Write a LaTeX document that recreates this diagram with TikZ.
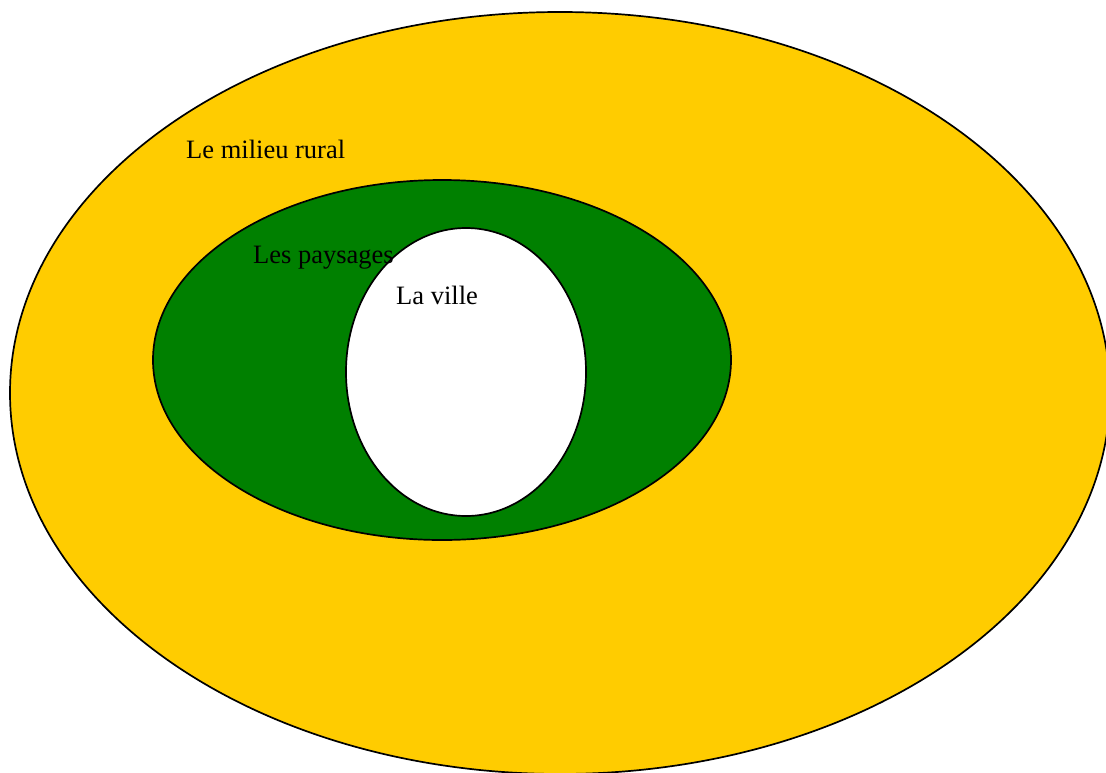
\documentclass[tikz,border=0pt]{standalone}
\usepackage{fontspec}
\setmainfont{Liberation Serif}
\usetikzlibrary{shapes.geometric}
\definecolor{ruralyellow}{HTML}{FFCC00}
\definecolor{paysgreen}{HTML}{008000}
\begin{document}
\begin{tikzpicture}[x=1pt,y=-1pt,
  zone/.style={ellipse,draw=black,line width=1.7pt,inner sep=0pt},
  lbl/.style={font=\fontsize{26.5}{31}\selectfont,inner sep=0pt,anchor=west}]
\useasboundingbox (0,0) rectangle (1106,772);
\clip (0,0) rectangle (1106,772);
\node[zone,fill=ruralyellow,minimum width=1100pt,minimum height=762pt] (rural) at (560,393) {};
\node[zone,fill=paysgreen,minimum width=578pt,minimum height=360pt] (pays) at (442,360) {};
\node[zone,fill=white,minimum width=240pt,minimum height=288pt] (ville) at (466,372) {};
\node[lbl] (trural) at (186,149) {Le milieu rural};
\node[lbl] (tpays) at (253,258) {Les paysages};
\node[lbl] (tville) at (396,295) {La ville};
\end{tikzpicture}
\end{document}
